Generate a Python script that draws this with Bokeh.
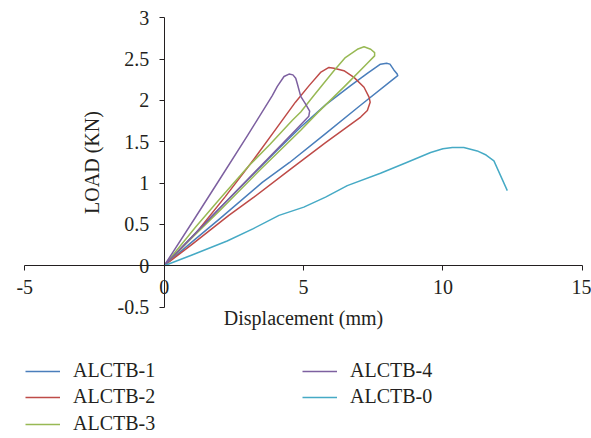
from bokeh.plotting import figure
from bokeh.models import Range1d, FixedTicker, Legend, LegendItem
from bokeh.embed import file_html
from bokeh.resources import INLINE

# ---- data ----
x1 = [0, 1.0, 2.0, 3.0, 4.0, 4.9, 5.8, 6.69, 7.3, 7.76, 7.98, 8.10, 8.24, 8.36, 8.38, 8.30, 7.0, 5.79, 4.5, 3.52, 2.0, 1.0, 0]
y1 = [0, 0.35, 0.70, 1.04, 1.38, 1.68, 1.95, 2.18, 2.33, 2.44, 2.45, 2.44, 2.37, 2.32, 2.30, 2.28, 1.93, 1.60, 1.25, 1.01, 0.57, 0.29, 0]

x2 = [0, 1.13, 2.2, 3.22, 4.0, 4.71, 5.2, 5.61, 5.91, 6.09, 6.45, 6.81, 7.17, 7.35, 7.39, 7.29, 7.05, 5.79, 4.5, 3.22, 2.32, 1.0, 0]
y2 = [0, 0.39, 0.84, 1.29, 1.65, 1.98, 2.18, 2.34, 2.40, 2.39, 2.36, 2.28, 2.16, 2.04, 1.98, 1.88, 1.80, 1.49, 1.16, 0.83, 0.61, 0.26, 0]

x3 = [0, 1.13, 2.0, 3.04, 3.8, 4.60, 4.90, 5.37, 6.09, 6.5, 6.93, 7.17, 7.41, 7.55, 7.55, 7.29, 6.5, 5.5, 4.9, 3.5, 2.0, 1.0, 0]
y3 = [0, 0.47, 0.81, 1.21, 1.47, 1.76, 1.86, 2.06, 2.36, 2.52, 2.62, 2.65, 2.62, 2.58, 2.54, 2.45, 2.18, 1.85, 1.64, 1.18, 0.67, 0.34, 0]

x4 = [0, 1.13, 2.0, 3.0, 3.88, 4.06, 4.30, 4.48, 4.62, 4.72, 4.78, 4.90, 5.07, 5.22, 5.19, 4.71, 3.5, 2.0, 1.0, 0]
y4 = [0, 0.59, 1.05, 1.58, 2.06, 2.17, 2.29, 2.32, 2.31, 2.27, 2.20, 2.05, 1.96, 1.87, 1.81, 1.64, 1.22, 0.70, 0.35, 0]

x0 = [0, 1.0, 2.26, 3.2, 4.12, 5.01, 5.79, 6.57, 7.76, 8.7, 9.56, 10.0, 10.34, 10.75, 11.23, 11.55, 11.83, 12.31]
y0 = [0, 0.13, 0.30, 0.45, 0.61, 0.71, 0.83, 0.97, 1.12, 1.25, 1.37, 1.415, 1.43, 1.43, 1.39, 1.34, 1.27, 0.91]

series_names = ["ALCTB-1", "ALCTB-2", "ALCTB-3", "ALCTB-4", "ALCTB-0"]
series_x = [x1, x2, x3, x4, x0]
series_y = [y1, y2, y3, y4, y0]
colors = ["#4A7EBB", "#BE4B48", "#98B954", "#7D60A0", "#46AAC5"]

x_bounds = (-5, 15)
y_bounds = (-0.5, 3)
x_ticks = [-5, 0, 5, 10, 15]
x_tick_labels = ["-5", "0", "5", "10", "15"]
y_ticks = [-0.5, 0, 0.5, 1, 1.5, 2, 2.5, 3]
y_tick_labels = ["-0.5", "0", "0.5", "1", "1.5", "2", "2.5", "3"]

FONT = "Liberation Serif"
TXT = "#231F20"

# the frame covers the whole canvas; axes are drawn through the origin
# and limited to their bounds, as in the reference
p = figure(width=591, height=438, output_backend="svg", toolbar_location=None,
           x_range=Range1d(-5.87, 15.33), y_range=Range1d(-2.09, 3.21),
           min_border=0)
p.outline_line_color = None
p.xgrid.visible = False
p.ygrid.visible = False

renderers = []
for xs, ys, c in zip(series_x, series_y, colors):
    r = p.line(xs, ys, line_color=c, line_width=1.5, line_join="round")
    renderers.append(r)

for ax in (p.xaxis[0], p.yaxis[0]):
    ax.fixed_location = 0
    ax.axis_line_color = TXT
    ax.axis_line_width = 1
    ax.major_tick_line_color = TXT
    ax.major_tick_out = 5
    ax.major_tick_in = 0
    ax.minor_tick_line_color = None
    ax.major_label_text_font = FONT
    ax.major_label_text_font_size = "20px"
    ax.major_label_text_color = TXT
    ax.axis_label_text_font = FONT
    ax.axis_label_text_font_size = "20px"
    ax.axis_label_text_font_style = "normal"
    ax.axis_label_text_color = TXT

p.xaxis.bounds = x_bounds
p.yaxis.bounds = y_bounds
p.xaxis.ticker = FixedTicker(ticks=x_ticks)
p.yaxis.ticker = FixedTicker(ticks=y_ticks)
p.xaxis.major_label_overrides = dict(zip(x_ticks, x_tick_labels))
p.yaxis.major_label_overrides = dict(zip(y_ticks, y_tick_labels))
p.xaxis.axis_label = "Displacement (mm)"
p.yaxis.axis_label = "LOAD (KN)"
p.xaxis.major_label_standoff = 9
p.yaxis.major_label_standoff = 10
p.xaxis.axis_label_standoff = 10
p.yaxis.axis_label_standoff = 12

# legend entries: (series index, left px, bottom px from the frame bottom)
legend_slots = [(0, 25, 56), (1, 25, 30), (2, 25, 3), (3, 302, 56), (4, 302, 30)]
for i, lx, ly in legend_slots:
    lg = Legend(items=[LegendItem(label=series_names[i], renderers=[renderers[i]])],
                location=(lx, ly), orientation="vertical",
                glyph_width=35, glyph_height=20, label_height=20, label_standoff=13,
                spacing=0, padding=0, margin=0, border_line_color=None,
                background_fill_alpha=0,
                label_text_font=FONT, label_text_font_size="20px", label_text_color=TXT)
    p.add_layout(lg)

open("out.html", "w").write(file_html(p, INLINE))
